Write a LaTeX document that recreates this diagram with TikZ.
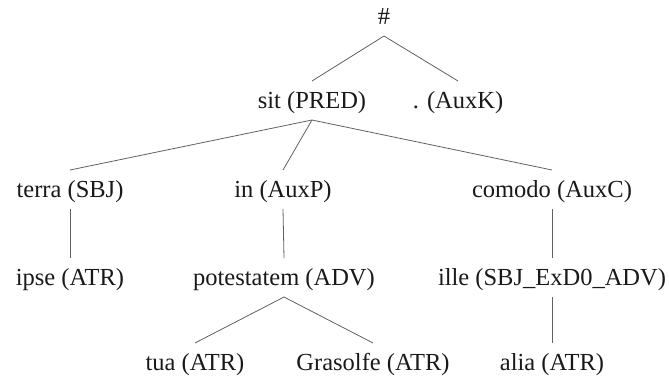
\documentclass[tikz,border=0pt]{standalone}
\usepackage{fontspec}
\setmainfont{Liberation Serif}
\begin{document}
\begin{tikzpicture}[x=1pt,y=-1pt,
  lbl/.style={anchor=base, inner xsep=0pt, inner ysep=7pt, outer sep=0pt,
    text height=20pt, text depth=5pt, font=\fontsize{24.5}{29}\selectfont, text=black!90},
  edge/.style={draw=black!62, line width=0.8pt}]
\useasboundingbox (0,0) rectangle (669,378);
\node[lbl] (root) at (384,24) {\#};
\node[lbl] (sit) at (312,108) {sit (PRED)};
\node[lbl] (auxk) at (458,108) {. (AuxK)};
\node[lbl] (terra) at (70,197) {terra (SBJ)};
\node[lbl] (in) at (283,197) {in (AuxP)};
\node[lbl] (comodo) at (552,197) {comodo (AuxC)};
\node[lbl] (ipse) at (70,285) {ipse (ATR)};
\node[lbl] (pot) at (284,285) {potestatem (ADV)};
\node[lbl] (ille) at (552,285) {ille (SBJ\_ExD0\_ADV)};
\node[lbl] (tua) at (195,370) {tua (ATR)};
\node[lbl] (gras) at (373,370) {Grasolfe (ATR)};
\node[lbl] (alia) at (552,370) {alia (ATR)};
\draw[edge] (root.south) -- (sit.north);
\draw[edge] (root.south) -- (auxk.north);
\draw[edge] (sit.south) -- (terra.north);
\draw[edge] (sit.south) -- (in.north);
\draw[edge] (sit.south) -- (comodo.north);
\draw[edge] (terra.south) -- (ipse.north);
\draw[edge] (in.south) -- (pot.north);
\draw[edge] (comodo.south) -- (ille.north);
\draw[edge] (pot.south) -- (tua.north);
\draw[edge] (pot.south) -- (gras.north);
\draw[edge] (ille.south) -- (alia.north);
\end{tikzpicture}
\end{document}
